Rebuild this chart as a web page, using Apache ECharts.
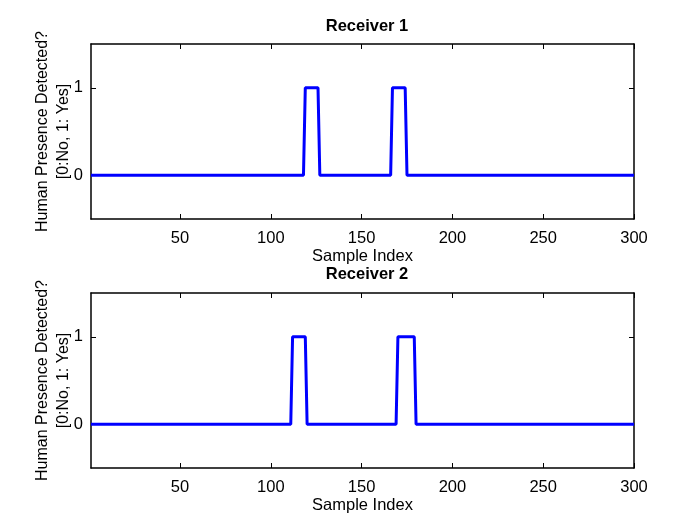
<!DOCTYPE html>
<html>
<head>
<meta charset="utf-8">
<script src="https://cdn.jsdelivr.net/npm/echarts@6/dist/echarts.min.js"></script>
<style>
  html, body { margin: 0; padding: 0; background: #fff; }
  #main { width: 700px; height: 527px; }
</style>
</head>
<body>
<div id="main"></div>
<script>
// breakpoints of each receiver's detection trace (sample index, 0/1)
var r1X = [1, 118, 119, 126, 127, 166, 167, 174, 175, 300];
var r1Y = [0, 0, 1, 1, 0, 0, 1, 1, 0, 0];
var r2X = [1, 111, 112, 119, 120, 169, 170, 179, 180, 300];
var r2Y = [0, 0, 1, 1, 0, 0, 1, 1, 0, 0];

var titles = ["Receiver 1", "Receiver 2"];
var xTicks = [50, 100, 150, 200, 250, 300];
var yTicks = [0, 1];

var FONT = "Liberation Sans, Arial, Helvetica, sans-serif";
var AXIS_COLOR = "#000";

function pairs(xs, ys) {
  var out = [];
  for (var i = 0; i < xs.length; i++) out.push([xs[i], ys[i]]);
  return out;
}

function init_chart(container) {
  var chartDom = document.getElementById(container);
  var myChart = echarts.init(chartDom, null, { renderer: "canvas" });

  var grids = [
    { left: 91, top: 44, width: 543, height: 175 },
    { left: 91, top: 293, width: 543, height: 175 },
  ];

  var xAxes = [];
  var yAxes = [];
  grids.forEach(function (g, gi) {
    // bottom x axis with labels
    xAxes.push({
      gridIndex: gi,
      type: "value",
      min: 1,
      max: 300,
      position: "bottom",
      name: "Sample Index",
      nameLocation: "middle",
      nameGap: 29,
      nameMoveOverlap: false,
      nameTextStyle: { color: "#000", fontFamily: FONT, fontSize: 16.5 },
      axisLine: { show: true, onZero: false, lineStyle: { color: AXIS_COLOR, width: 1.5 } },
      axisTick: { show: true, inside: true, length: 5, customValues: xTicks, lineStyle: { color: AXIS_COLOR } },
      axisLabel: { show: true, margin: 11, customValues: xTicks, color: "#000", fontFamily: FONT, fontSize: 16.5 },
      splitLine: { show: false },
    });
    // top x axis (box + ticks only)
    xAxes.push({
      gridIndex: gi,
      type: "value",
      min: 1,
      max: 300,
      position: "top",
      axisLine: { show: true, onZero: false, lineStyle: { color: AXIS_COLOR, width: 1.5 } },
      axisTick: { show: true, inside: true, length: 5, customValues: xTicks, lineStyle: { color: AXIS_COLOR } },
      axisLabel: { show: false },
      splitLine: { show: false },
    });
    // left y axis with labels
    yAxes.push({
      gridIndex: gi,
      type: "value",
      min: -0.5,
      max: 1.5,
      position: "left",
      name: "Human Presence Detected?\n[0:No, 1: Yes]",
      nameLocation: "middle",
      nameRotate: 90,
      nameGap: 17,
      nameMoveOverlap: false,
      nameTextStyle: { color: "#000", fontFamily: FONT, fontSize: 16, lineHeight: 21, align: "center" },
      axisLine: { show: true, onZero: false, lineStyle: { color: AXIS_COLOR, width: 1.5 } },
      axisTick: { show: true, inside: true, length: 5, customValues: yTicks, lineStyle: { color: AXIS_COLOR } },
      axisLabel: { show: true, margin: 8, customValues: yTicks, color: "#000", fontFamily: FONT, fontSize: 16.5 },
      splitLine: { show: false },
    });
    // right y axis (box + ticks only)
    yAxes.push({
      gridIndex: gi,
      type: "value",
      min: -0.5,
      max: 1.5,
      position: "right",
      axisLine: { show: true, onZero: false, lineStyle: { color: AXIS_COLOR, width: 1.5 } },
      axisTick: { show: true, inside: true, length: 5, customValues: yTicks, lineStyle: { color: AXIS_COLOR } },
      axisLabel: { show: false },
      splitLine: { show: false },
    });
  });

  var option = {
    animation: false,
    backgroundColor: "#fff",
    title: [
      {
        text: titles[0],
        left: 362,
        top: 13,
        textAlign: "center",
        textStyle: { color: "#000", fontFamily: FONT, fontSize: 16.5, fontWeight: "bold" },
      },
      {
        text: titles[1],
        left: 362,
        top: 261,
        textAlign: "center",
        textStyle: { color: "#000", fontFamily: FONT, fontSize: 16.5, fontWeight: "bold" },
      },
    ],
    grid: grids,
    xAxis: xAxes,
    yAxis: yAxes,
    series: [
      {
        type: "line",
        xAxisIndex: 0,
        yAxisIndex: 0,
        showSymbol: false,
        lineStyle: { color: "#0000ff", width: 3 },
        data: pairs(r1X, r1Y),
      },
      {
        type: "line",
        xAxisIndex: 2,
        yAxisIndex: 2,
        showSymbol: false,
        lineStyle: { color: "#0000ff", width: 3 },
        data: pairs(r2X, r2Y),
      },
    ],
  };

  myChart.setOption(option);
  window.addEventListener("resize", function () {
    myChart.resize();
  });
}

init_chart("main");
</script>
</body>
</html>
